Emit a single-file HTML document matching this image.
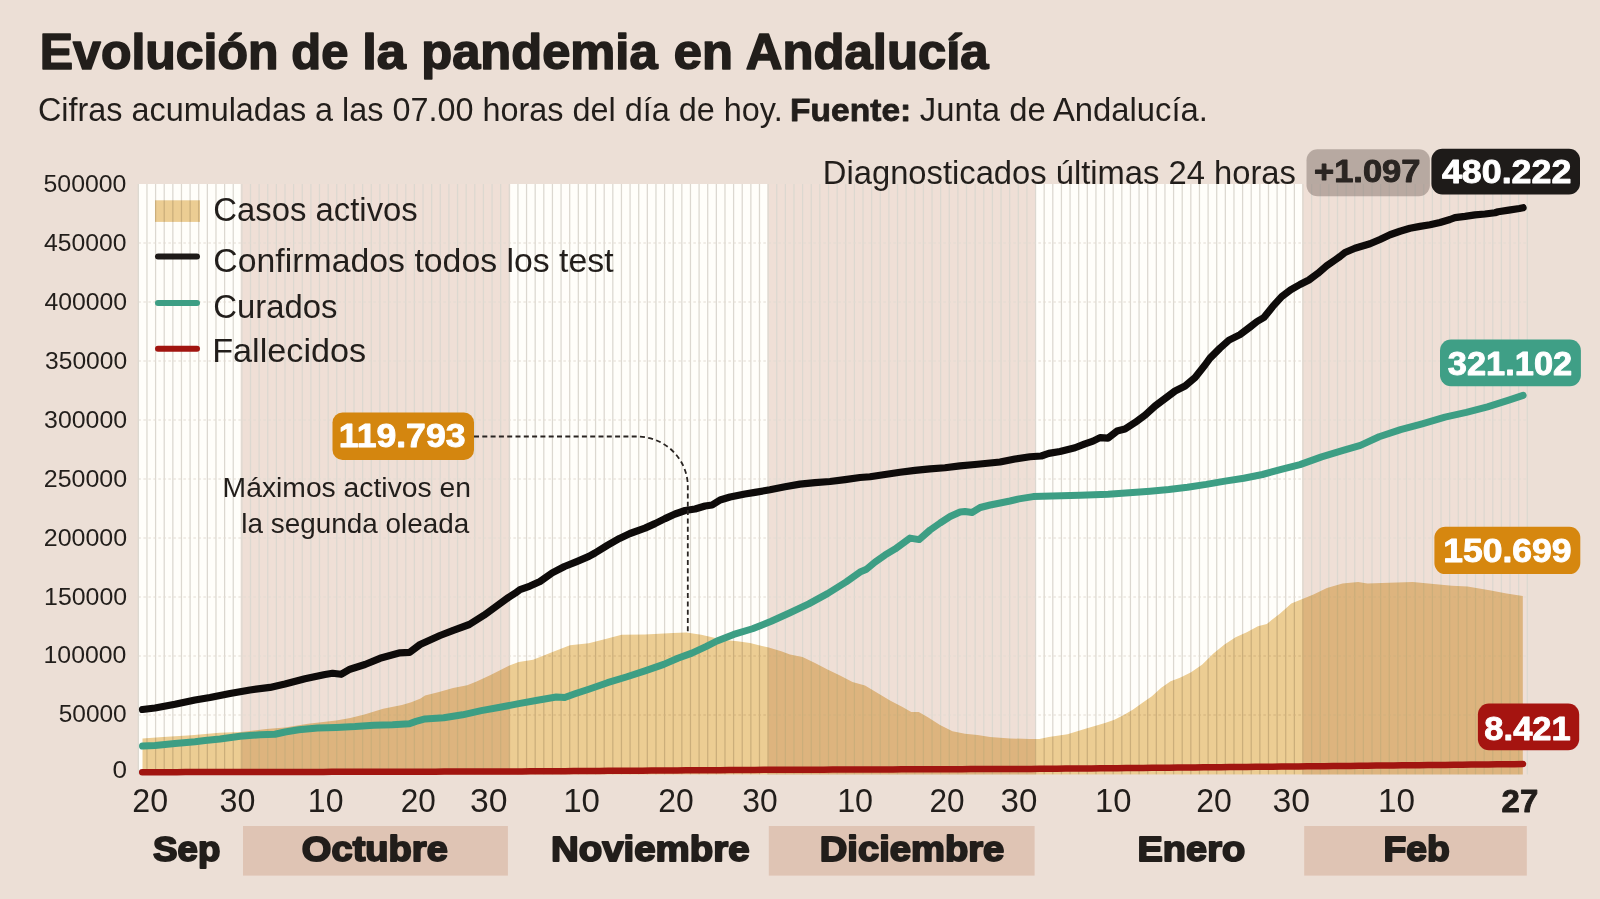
<!DOCTYPE html>
<html><head><meta charset="utf-8"><title>Evolución de la pandemia en Andalucía</title>
<style>html,body{margin:0;padding:0;background:#ecdfd6;width:1600px;height:899px;overflow:hidden}</style>
</head><body>
<svg width="1600" height="899" viewBox="0 0 1600 899" style="display:block">
<rect x="0" y="0" width="1600" height="899" fill="#ecdfd6"/>
<rect x="138.40" y="184.0" width="102.40" height="590.5" fill="#fffefa"/>
<rect x="240.80" y="184.0" width="269.40" height="590.5" fill="#efdfd6"/>
<rect x="510.20" y="184.0" width="257.50" height="590.5" fill="#fffefa"/>
<rect x="767.70" y="184.0" width="268.10" height="590.5" fill="#efdfd6"/>
<rect x="1035.80" y="184.0" width="266.60" height="590.5" fill="#fffefa"/>
<rect x="1302.40" y="184.0" width="225.40" height="590.5" fill="#efdfd6"/>
<path d="M138.34,184.0V774.5M146.97,184.0V774.5M155.59,184.0V774.5M164.22,184.0V774.5M172.85,184.0V774.5M181.47,184.0V774.5M190.10,184.0V774.5M198.73,184.0V774.5M207.35,184.0V774.5M215.98,184.0V774.5M224.61,184.0V774.5M233.24,184.0V774.5M241.86,184.0V774.5M250.49,184.0V774.5M259.12,184.0V774.5M267.74,184.0V774.5M276.37,184.0V774.5M285.00,184.0V774.5M293.62,184.0V774.5M302.25,184.0V774.5M310.88,184.0V774.5M319.51,184.0V774.5M328.13,184.0V774.5M336.76,184.0V774.5M345.39,184.0V774.5M354.01,184.0V774.5M362.64,184.0V774.5M371.27,184.0V774.5M379.89,184.0V774.5M388.52,184.0V774.5M397.15,184.0V774.5M405.78,184.0V774.5M414.40,184.0V774.5M423.03,184.0V774.5M431.66,184.0V774.5M440.28,184.0V774.5M448.91,184.0V774.5M457.54,184.0V774.5M466.17,184.0V774.5M474.79,184.0V774.5M483.42,184.0V774.5M492.05,184.0V774.5M500.67,184.0V774.5M509.30,184.0V774.5M517.93,184.0V774.5M526.55,184.0V774.5M535.18,184.0V774.5M543.81,184.0V774.5M552.44,184.0V774.5M561.06,184.0V774.5M569.69,184.0V774.5M578.32,184.0V774.5M586.94,184.0V774.5M595.57,184.0V774.5M604.20,184.0V774.5M612.82,184.0V774.5M621.45,184.0V774.5M630.08,184.0V774.5M638.71,184.0V774.5M647.33,184.0V774.5M655.96,184.0V774.5M664.59,184.0V774.5M673.21,184.0V774.5M681.84,184.0V774.5M690.47,184.0V774.5M699.09,184.0V774.5M707.72,184.0V774.5M716.35,184.0V774.5M724.98,184.0V774.5M733.60,184.0V774.5M742.23,184.0V774.5M750.86,184.0V774.5M759.48,184.0V774.5M768.11,184.0V774.5M776.74,184.0V774.5M785.36,184.0V774.5M793.99,184.0V774.5M802.62,184.0V774.5M811.25,184.0V774.5M819.87,184.0V774.5M828.50,184.0V774.5M837.13,184.0V774.5M845.75,184.0V774.5M854.38,184.0V774.5M863.01,184.0V774.5M871.63,184.0V774.5M880.26,184.0V774.5M888.89,184.0V774.5M897.52,184.0V774.5M906.14,184.0V774.5M914.77,184.0V774.5M923.40,184.0V774.5M932.02,184.0V774.5M940.65,184.0V774.5M949.28,184.0V774.5M957.90,184.0V774.5M966.53,184.0V774.5M975.16,184.0V774.5M983.79,184.0V774.5M992.41,184.0V774.5M1001.04,184.0V774.5M1009.67,184.0V774.5M1018.29,184.0V774.5M1026.92,184.0V774.5M1035.55,184.0V774.5M1044.17,184.0V774.5M1052.80,184.0V774.5M1061.43,184.0V774.5M1070.06,184.0V774.5M1078.68,184.0V774.5M1087.31,184.0V774.5M1095.94,184.0V774.5M1104.56,184.0V774.5M1113.19,184.0V774.5M1121.82,184.0V774.5M1130.44,184.0V774.5M1139.07,184.0V774.5M1147.70,184.0V774.5M1156.33,184.0V774.5M1164.95,184.0V774.5M1173.58,184.0V774.5M1182.21,184.0V774.5M1190.83,184.0V774.5M1199.46,184.0V774.5M1208.09,184.0V774.5M1216.71,184.0V774.5M1225.34,184.0V774.5M1233.97,184.0V774.5M1242.60,184.0V774.5M1251.22,184.0V774.5M1259.85,184.0V774.5M1268.48,184.0V774.5M1277.10,184.0V774.5M1285.73,184.0V774.5M1294.36,184.0V774.5M1302.98,184.0V774.5M1311.61,184.0V774.5M1320.24,184.0V774.5M1328.87,184.0V774.5M1337.49,184.0V774.5M1346.12,184.0V774.5M1354.75,184.0V774.5M1363.37,184.0V774.5M1372.00,184.0V774.5M1380.63,184.0V774.5M1389.25,184.0V774.5M1397.88,184.0V774.5M1406.51,184.0V774.5M1415.13,184.0V774.5M1423.76,184.0V774.5M1432.39,184.0V774.5M1441.02,184.0V774.5M1449.64,184.0V774.5M1458.27,184.0V774.5M1466.90,184.0V774.5M1475.52,184.0V774.5M1484.15,184.0V774.5M1492.78,184.0V774.5M1501.41,184.0V774.5M1510.03,184.0V774.5M1518.66,184.0V774.5M1527.29,184.0V774.5" stroke="#dcd8d0" stroke-width="1.25" fill="none"/>
<path d="M138.4,715.00H1527.8M138.4,656.00H1527.8M138.4,597.00H1527.8M138.4,538.00H1527.8M138.4,479.00H1527.8M138.4,420.00H1527.8M138.4,361.00H1527.8M138.4,302.00H1527.8M138.4,243.00H1527.8" stroke="#e2dbd2" stroke-width="1" stroke-dasharray="2.5,2.5" fill="none"/>
<polygon points="142.50,774.50 142.50,738.40 163.00,737.00 191.25,735.20 219.40,732.80 241.00,731.90 266.25,729.00 285.00,727.40 308.10,723.75 336.25,720.50 350.30,718.10 364.40,714.40 383.10,708.75 401.90,705.00 411.25,702.20 420.60,698.40 425.00,695.60 439.00,691.90 453.10,688.10 467.20,685.30 476.60,681.60 490.60,675.00 500.00,670.30 509.40,665.60 518.75,661.90 533.10,659.70 551.90,652.20 570.00,645.20 588.75,643.30 607.50,638.60 621.60,634.80 645.00,634.40 673.10,633.00 686.25,632.60 701.25,634.80 715.30,638.10 725.00,640.00 737.50,641.25 750.00,643.10 768.75,647.50 781.25,651.25 790.00,654.40 802.50,656.90 815.00,663.10 827.50,669.40 840.00,675.60 852.50,681.90 865.00,685.60 877.50,693.10 890.00,700.60 902.50,706.90 911.25,711.90 918.75,711.90 927.50,716.90 940.00,725.00 952.50,731.25 965.00,733.75 977.50,735.00 990.00,736.90 1010.00,738.50 1030.00,738.90 1039.40,738.90 1048.75,737.00 1067.50,734.20 1086.25,728.60 1105.00,723.00 1114.40,719.70 1123.75,715.00 1133.10,709.40 1142.50,702.80 1151.90,696.25 1161.25,687.80 1170.60,681.25 1180.00,677.70 1191.10,672.30 1202.30,664.60 1213.40,653.40 1224.50,644.50 1235.60,637.30 1246.80,632.30 1257.90,626.20 1266.80,623.90 1280.10,613.40 1291.30,603.40 1302.40,598.90 1313.50,594.50 1326.90,588.10 1342.50,583.40 1358.10,581.90 1367.50,583.40 1389.40,582.70 1412.80,581.90 1428.40,583.40 1451.90,585.80 1467.50,586.60 1490.90,590.50 1506.60,593.60 1522.80,596.00 1522.80,774.50" fill="#ecce96" style="mix-blend-mode:multiply"/>
<rect x="155" y="200.3" width="45" height="21.6" fill="#ecce96" style="mix-blend-mode:multiply"/>
<polyline points="142.20,772.17 150.83,772.16 159.46,772.15 168.09,772.14 176.72,772.13 185.35,772.12 193.98,772.11 202.61,772.10 211.24,772.09 219.87,772.08 228.50,772.07 237.13,772.06 245.76,772.05 254.39,772.03 263.02,772.01 271.65,772.00 280.28,771.98 288.91,771.96 297.54,771.94 306.17,771.92 314.80,771.90 323.43,771.88 332.06,771.86 340.69,771.84 349.32,771.82 357.95,771.81 366.58,771.79 375.21,771.77 383.84,771.75 392.47,771.73 401.10,771.71 409.73,771.69 418.36,771.67 426.99,771.65 435.62,771.63 444.25,771.62 452.88,771.60 461.51,771.58 470.14,771.56 478.77,771.54 487.40,771.52 496.03,771.50 504.66,771.48 513.29,771.46 521.92,771.41 530.55,771.35 539.18,771.30 547.81,771.24 556.44,771.19 565.07,771.13 573.70,771.08 582.33,771.02 590.96,770.97 599.59,770.91 608.22,770.86 616.85,770.80 625.48,770.75 634.11,770.69 642.74,770.64 651.37,770.58 660.00,770.53 668.63,770.47 677.26,770.42 685.89,770.36 694.52,770.31 703.15,770.25 711.78,770.20 720.41,770.14 729.04,770.09 737.67,770.03 746.30,769.98 754.93,769.92 763.56,769.87 772.19,769.81 780.82,769.78 789.45,769.75 798.08,769.72 806.71,769.69 815.34,769.66 823.97,769.63 832.60,769.60 841.23,769.57 849.86,769.54 858.49,769.51 867.12,769.48 875.75,769.45 884.38,769.42 893.01,769.38 901.64,769.35 910.27,769.32 918.90,769.29 927.53,769.26 936.16,769.23 944.79,769.20 953.42,769.17 962.05,769.14 970.68,769.11 979.31,769.08 987.94,769.05 996.57,769.02 1005.20,768.99 1013.83,768.96 1022.46,768.93 1031.09,768.90 1039.72,768.87 1048.35,768.79 1056.98,768.70 1065.61,768.62 1074.24,768.54 1082.87,768.46 1091.50,768.38 1100.13,768.29 1108.76,768.21 1117.39,768.13 1126.02,768.05 1134.65,767.97 1143.28,767.88 1151.91,767.80 1160.54,767.72 1169.17,767.64 1177.80,767.56 1186.43,767.48 1195.06,767.39 1203.69,767.31 1212.32,767.23 1220.95,767.15 1229.58,767.07 1238.21,766.98 1246.84,766.90 1255.47,766.82 1264.10,766.74 1272.73,766.66 1281.36,766.58 1289.99,766.49 1298.62,766.41 1307.25,766.33 1315.88,766.24 1324.51,766.15 1333.14,766.06 1341.77,765.97 1350.40,765.88 1359.03,765.79 1367.66,765.70 1376.29,765.60 1384.92,765.51 1393.55,765.42 1402.18,765.33 1410.81,765.24 1419.44,765.15 1428.07,765.06 1436.70,764.97 1445.33,764.88 1453.96,764.79 1462.59,764.70 1471.22,764.61 1479.85,764.52 1488.48,764.43 1497.11,764.34 1505.74,764.24 1514.37,764.15 1523.00,764.06" fill="none" stroke="#a11510" stroke-width="6.5" stroke-linecap="round" stroke-linejoin="round"/>
<polyline points="142.50,746.00 155.00,745.50 175.00,743.50 195.00,741.75 205.00,740.50 220.00,739.00 240.00,736.25 260.00,734.75 275.00,734.25 285.00,732.00 298.75,729.80 317.50,728.00 336.25,727.50 355.00,726.60 373.75,725.20 392.50,724.70 409.40,723.75 416.00,721.40 425.00,718.90 443.75,717.70 462.50,714.80 481.25,710.60 500.00,707.30 518.75,703.60 537.50,700.30 556.25,697.00 564.70,697.50 575.00,693.80 588.75,689.20 607.50,682.70 626.25,677.00 645.00,670.90 663.75,664.40 677.80,658.30 691.90,653.10 705.90,646.60 717.00,641.00 733.75,634.40 752.50,628.75 771.25,621.25 790.00,612.80 808.75,603.90 827.50,593.60 846.25,581.90 860.00,572.10 866.00,569.60 875.00,562.10 885.00,555.10 895.00,549.10 910.00,538.10 919.10,539.60 930.10,530.00 940.10,523.00 950.10,516.50 960.10,512.00 965.10,511.50 972.10,512.50 980.20,507.50 990.20,505.00 1000.20,503.00 1010.00,501.00 1019.00,498.90 1033.10,496.60 1051.90,496.10 1080.00,495.20 1108.10,494.20 1136.25,492.30 1150.00,491.20 1168.75,489.50 1187.50,487.20 1206.25,484.40 1225.00,481.10 1243.75,478.30 1262.50,474.50 1281.25,469.40 1300.00,464.60 1321.60,456.90 1343.10,450.40 1360.40,445.40 1379.10,436.80 1400.60,429.60 1422.20,423.80 1445.00,417.20 1466.30,412.40 1487.50,406.90 1508.80,400.20 1523.10,395.40" fill="none" stroke="#3d9e84" stroke-width="7" stroke-linecap="round" stroke-linejoin="round"/>
<polyline points="142.50,709.50 155.00,708.00 175.00,704.30 195.00,700.00 210.00,697.50 230.00,693.50 250.00,690.00 270.00,687.40 285.00,684.00 305.00,678.80 325.00,674.50 332.60,673.30 341.00,674.30 350.00,669.20 365.00,664.50 380.00,658.30 400.00,652.80 409.60,652.30 420.10,644.50 440.00,635.50 453.30,630.30 469.30,624.50 483.90,615.30 496.20,606.40 508.40,597.50 515.00,593.30 520.00,589.60 530.00,586.10 540.00,581.50 552.20,572.90 564.50,566.50 576.70,561.60 588.90,556.40 595.00,553.00 607.30,545.40 619.50,538.40 630.00,533.50 645.00,528.10 655.00,523.60 665.00,518.60 675.10,514.00 685.10,510.50 695.10,509.00 705.10,506.00 712.10,505.00 720.10,500.00 730.10,497.00 745.00,494.00 755.00,492.40 770.00,489.75 785.00,486.75 800.00,484.10 815.00,482.60 830.00,481.50 845.00,479.60 860.00,477.50 870.00,476.75 885.00,474.50 900.00,472.25 915.00,470.40 930.00,468.90 945.00,467.75 960.00,465.90 975.00,464.50 985.00,463.50 1000.00,462.00 1015.00,459.00 1030.00,456.75 1041.25,456.00 1048.75,453.40 1060.00,451.50 1075.00,447.75 1085.00,443.80 1093.00,441.10 1100.00,437.60 1108.00,438.10 1117.00,431.10 1125.00,429.10 1135.00,422.60 1145.10,415.10 1155.10,406.00 1165.10,398.50 1175.10,391.00 1185.10,386.00 1195.10,377.50 1205.00,365.00 1210.00,358.10 1220.00,348.10 1229.00,340.10 1240.00,334.60 1250.10,327.00 1257.10,321.50 1263.90,317.50 1272.80,306.40 1281.70,296.60 1290.60,289.90 1300.00,284.50 1308.90,280.00 1317.80,273.40 1326.70,265.80 1335.60,259.60 1340.00,256.50 1345.00,252.50 1355.00,248.20 1365.00,245.20 1370.00,243.75 1380.00,239.50 1390.00,234.75 1400.00,231.25 1410.00,228.25 1420.00,226.35 1430.00,224.75 1440.00,222.50 1450.00,219.50 1455.00,217.60 1465.00,216.35 1475.00,214.85 1485.00,214.00 1495.00,212.70 1498.10,211.70 1508.80,210.10 1519.40,208.50 1523.10,207.75" fill="none" stroke="#0e0b0a" stroke-width="7.2" stroke-linecap="round" stroke-linejoin="round"/>
<path d="M474,436.5 H636.7 A51,50 0 0 1 687.8,486.5 V632.5" fill="none" stroke="#2a2522" stroke-width="1.8" stroke-dasharray="5,3.3"/>
<path d="M158,256.6 H197" stroke="#1e1a18" stroke-width="6" stroke-linecap="round"/>
<path d="M158,303.1 H197" stroke="#3d9e84" stroke-width="6" stroke-linecap="round"/>
<path d="M158,348.75 H197" stroke="#a11510" stroke-width="6" stroke-linecap="round"/>
<text x="213.36" y="221.25" font-family="Liberation Sans, sans-serif" font-weight="normal" font-size="33.14" textLength="204.41" lengthAdjust="spacingAndGlyphs" fill="#221e1b" >Casos activos</text>
<text x="213.31" y="271.90" font-family="Liberation Sans, sans-serif" font-weight="normal" font-size="33.14" textLength="400.32" lengthAdjust="spacingAndGlyphs" fill="#221e1b" >Confirmados todos los test</text>
<text x="213.36" y="317.50" font-family="Liberation Sans, sans-serif" font-weight="normal" font-size="33.14" textLength="124.07" lengthAdjust="spacingAndGlyphs" fill="#221e1b" >Curados</text>
<text x="212.19" y="361.90" font-family="Liberation Sans, sans-serif" font-weight="normal" font-size="33.14" textLength="154.04" lengthAdjust="spacingAndGlyphs" fill="#221e1b" >Fallecidos</text>
<rect x="332.5" y="412.5" width="141.50" height="47.50" rx="10" ry="10" fill="#d4860f" />
<text x="338.84" y="447.35" font-family="Liberation Sans, sans-serif" font-weight="bold" font-size="33.67" textLength="126.67" lengthAdjust="spacingAndGlyphs" fill="#ffffff" stroke="#ffffff" stroke-width="0.9" stroke-linejoin="round" >119.793</text>
<text x="222.58" y="496.50" font-family="Liberation Sans, sans-serif" font-weight="normal" font-size="27.62" textLength="248.42" lengthAdjust="spacingAndGlyphs" fill="#221e1b" >Máximos activos en</text>
<text x="241.33" y="532.90" font-family="Liberation Sans, sans-serif" font-weight="normal" font-size="27.45" textLength="227.84" lengthAdjust="spacingAndGlyphs" fill="#221e1b" >la segunda oleada</text>
<text x="822.82" y="183.50" font-family="Liberation Sans, sans-serif" font-weight="normal" font-size="33.43" textLength="473.07" lengthAdjust="spacingAndGlyphs" fill="#221e1b" >Diagnosticados últimas 24 horas</text>
<rect x="1306.5" y="149.3" width="123.40" height="46.90" rx="11" ry="11" fill="rgba(120,105,98,0.45)" />
<text x="1314.00" y="182.15" font-family="Liberation Sans, sans-serif" font-weight="bold" font-size="31.38" textLength="106.45" lengthAdjust="spacingAndGlyphs" fill="#2a2522" stroke="#2a2522" stroke-width="0.9" stroke-linejoin="round" >+1.097</text>
<rect x="1431.4" y="148.7" width="148.60" height="45.80" rx="11" ry="11" fill="#1e1b19" />
<text x="1441.91" y="182.55" font-family="Liberation Sans, sans-serif" font-weight="bold" font-size="32.81" textLength="129.43" lengthAdjust="spacingAndGlyphs" fill="#ffffff" stroke="#ffffff" stroke-width="0.9" stroke-linejoin="round" >480.222</text>
<rect x="1440" y="339.6" width="140.90" height="46.65" rx="11" ry="11" fill="#3f9f86" />
<text x="1447.79" y="374.55" font-family="Liberation Sans, sans-serif" font-weight="bold" font-size="32.81" textLength="124.39" lengthAdjust="spacingAndGlyphs" fill="#ffffff" stroke="#ffffff" stroke-width="0.9" stroke-linejoin="round" >321.102</text>
<rect x="1434.4" y="526.8" width="145.90" height="47.30" rx="11" ry="11" fill="#d6870f" />
<text x="1443.25" y="562.35" font-family="Liberation Sans, sans-serif" font-weight="bold" font-size="33.38" textLength="128.32" lengthAdjust="spacingAndGlyphs" fill="#ffffff" stroke="#ffffff" stroke-width="0.9" stroke-linejoin="round" >150.699</text>
<rect x="1477.9" y="703.5" width="101.30" height="46.70" rx="11" ry="11" fill="#a51410" />
<text x="1484.38" y="739.55" font-family="Liberation Sans, sans-serif" font-weight="bold" font-size="32.81" textLength="86.32" lengthAdjust="spacingAndGlyphs" fill="#ffffff" stroke="#ffffff" stroke-width="0.9" stroke-linejoin="round" >8.421</text>
<text x="43.51" y="192.10" font-family="Liberation Sans, sans-serif" font-weight="normal" font-size="23.35" textLength="82.94" lengthAdjust="spacingAndGlyphs" fill="#221e1b" >500000</text>
<text x="43.96" y="251.10" font-family="Liberation Sans, sans-serif" font-weight="normal" font-size="23.35" textLength="82.48" lengthAdjust="spacingAndGlyphs" fill="#221e1b" >450000</text>
<text x="44.45" y="310.10" font-family="Liberation Sans, sans-serif" font-weight="normal" font-size="23.35" textLength="82.69" lengthAdjust="spacingAndGlyphs" fill="#221e1b" >400000</text>
<text x="45.07" y="369.10" font-family="Liberation Sans, sans-serif" font-weight="normal" font-size="23.35" textLength="82.07" lengthAdjust="spacingAndGlyphs" fill="#221e1b" >350000</text>
<text x="44.05" y="428.10" font-family="Liberation Sans, sans-serif" font-weight="normal" font-size="23.35" textLength="83.09" lengthAdjust="spacingAndGlyphs" fill="#221e1b" >300000</text>
<text x="43.75" y="487.10" font-family="Liberation Sans, sans-serif" font-weight="normal" font-size="23.35" textLength="83.40" lengthAdjust="spacingAndGlyphs" fill="#221e1b" >250000</text>
<text x="43.75" y="546.10" font-family="Liberation Sans, sans-serif" font-weight="normal" font-size="23.35" textLength="83.40" lengthAdjust="spacingAndGlyphs" fill="#221e1b" >200000</text>
<text x="44.11" y="605.10" font-family="Liberation Sans, sans-serif" font-weight="normal" font-size="23.35" textLength="83.04" lengthAdjust="spacingAndGlyphs" fill="#221e1b" >150000</text>
<text x="43.51" y="663.10" font-family="Liberation Sans, sans-serif" font-weight="normal" font-size="23.35" textLength="82.93" lengthAdjust="spacingAndGlyphs" fill="#221e1b" >100000</text>
<text x="58.72" y="722.10" font-family="Liberation Sans, sans-serif" font-weight="normal" font-size="23.35" textLength="68.00" lengthAdjust="spacingAndGlyphs" fill="#221e1b" >50000</text>
<text x="112.48" y="777.70" font-family="Liberation Sans, sans-serif" font-weight="normal" font-size="23.35" textLength="14.51" lengthAdjust="spacingAndGlyphs" fill="#221e1b" >0</text>
<text x="132.29" y="812.40" font-family="Liberation Sans, sans-serif" font-weight="normal" font-size="32.38" textLength="35.85" lengthAdjust="spacingAndGlyphs" fill="#221e1b" >20</text>
<text x="219.57" y="812.40" font-family="Liberation Sans, sans-serif" font-weight="normal" font-size="32.38" textLength="35.86" lengthAdjust="spacingAndGlyphs" fill="#221e1b" >30</text>
<text x="307.86" y="812.40" font-family="Liberation Sans, sans-serif" font-weight="normal" font-size="32.38" textLength="35.67" lengthAdjust="spacingAndGlyphs" fill="#221e1b" >10</text>
<text x="400.82" y="812.40" font-family="Liberation Sans, sans-serif" font-weight="normal" font-size="32.38" textLength="35.09" lengthAdjust="spacingAndGlyphs" fill="#221e1b" >20</text>
<text x="469.92" y="812.40" font-family="Liberation Sans, sans-serif" font-weight="normal" font-size="32.38" textLength="37.58" lengthAdjust="spacingAndGlyphs" fill="#221e1b" >30</text>
<text x="563.24" y="812.40" font-family="Liberation Sans, sans-serif" font-weight="normal" font-size="32.38" textLength="36.78" lengthAdjust="spacingAndGlyphs" fill="#221e1b" >10</text>
<text x="658.20" y="812.40" font-family="Liberation Sans, sans-serif" font-weight="normal" font-size="32.38" textLength="35.52" lengthAdjust="spacingAndGlyphs" fill="#221e1b" >20</text>
<text x="742.29" y="812.40" font-family="Liberation Sans, sans-serif" font-weight="normal" font-size="32.38" textLength="35.43" lengthAdjust="spacingAndGlyphs" fill="#221e1b" >30</text>
<text x="837.14" y="812.40" font-family="Liberation Sans, sans-serif" font-weight="normal" font-size="32.38" textLength="36.00" lengthAdjust="spacingAndGlyphs" fill="#221e1b" >10</text>
<text x="929.52" y="812.40" font-family="Liberation Sans, sans-serif" font-weight="normal" font-size="32.38" textLength="35.09" lengthAdjust="spacingAndGlyphs" fill="#221e1b" >20</text>
<text x="1000.64" y="812.40" font-family="Liberation Sans, sans-serif" font-weight="normal" font-size="32.38" textLength="36.83" lengthAdjust="spacingAndGlyphs" fill="#221e1b" >30</text>
<text x="1095.00" y="812.40" font-family="Liberation Sans, sans-serif" font-weight="normal" font-size="32.38" textLength="36.56" lengthAdjust="spacingAndGlyphs" fill="#221e1b" >10</text>
<text x="1196.20" y="812.40" font-family="Liberation Sans, sans-serif" font-weight="normal" font-size="32.38" textLength="35.63" lengthAdjust="spacingAndGlyphs" fill="#221e1b" >20</text>
<text x="1272.46" y="812.40" font-family="Liberation Sans, sans-serif" font-weight="normal" font-size="32.38" textLength="37.63" lengthAdjust="spacingAndGlyphs" fill="#221e1b" >30</text>
<text x="1378.06" y="812.40" font-family="Liberation Sans, sans-serif" font-weight="normal" font-size="32.38" textLength="37.11" lengthAdjust="spacingAndGlyphs" fill="#221e1b" >10</text>
<text x="1501.63" y="812.15" font-family="Liberation Sans, sans-serif" font-weight="bold" font-size="31.52" textLength="36.65" lengthAdjust="spacingAndGlyphs" fill="#221e1b" stroke="#221e1b" stroke-width="0.9" stroke-linejoin="round" >27</text>
<rect x="243" y="826" width="264.90" height="49.6" fill="#dfc4b4"/>
<rect x="768.8" y="826" width="265.80" height="49.6" fill="#dfc4b4"/>
<rect x="1304.2" y="826" width="222.60" height="49.6" fill="#dfc4b4"/>
<text x="153.12" y="861.25" font-family="Liberation Sans, sans-serif" font-weight="bold" font-size="35.90" textLength="67.33" lengthAdjust="spacingAndGlyphs" fill="#221e1b" stroke="#221e1b" stroke-width="1.9" stroke-linejoin="round" >Sep</text>
<text x="301.89" y="861.25" font-family="Liberation Sans, sans-serif" font-weight="bold" font-size="35.90" textLength="145.96" lengthAdjust="spacingAndGlyphs" fill="#221e1b" stroke="#221e1b" stroke-width="1.9" stroke-linejoin="round" >Octubre</text>
<text x="550.91" y="861.25" font-family="Liberation Sans, sans-serif" font-weight="bold" font-size="35.90" textLength="198.66" lengthAdjust="spacingAndGlyphs" fill="#221e1b" stroke="#221e1b" stroke-width="1.9" stroke-linejoin="round" >Noviembre</text>
<text x="819.73" y="861.25" font-family="Liberation Sans, sans-serif" font-weight="bold" font-size="35.90" textLength="184.64" lengthAdjust="spacingAndGlyphs" fill="#221e1b" stroke="#221e1b" stroke-width="1.9" stroke-linejoin="round" >Diciembre</text>
<text x="1137.54" y="861.25" font-family="Liberation Sans, sans-serif" font-weight="bold" font-size="35.90" textLength="107.69" lengthAdjust="spacingAndGlyphs" fill="#221e1b" stroke="#221e1b" stroke-width="1.9" stroke-linejoin="round" >Enero</text>
<text x="1383.48" y="861.25" font-family="Liberation Sans, sans-serif" font-weight="bold" font-size="35.90" textLength="66.50" lengthAdjust="spacingAndGlyphs" fill="#221e1b" stroke="#221e1b" stroke-width="1.9" stroke-linejoin="round" >Feb</text>
<text x="39.80" y="69.10" font-family="Liberation Sans, sans-serif" font-weight="bold" font-size="49.71" textLength="238.71" lengthAdjust="spacingAndGlyphs" fill="#221e1b" stroke="#221e1b" stroke-width="1.6" stroke-linejoin="round" >Evolución</text>
<text x="291.30" y="69.10" font-family="Liberation Sans, sans-serif" font-weight="bold" font-size="49.71" textLength="57.07" lengthAdjust="spacingAndGlyphs" fill="#221e1b" stroke="#221e1b" stroke-width="1.6" stroke-linejoin="round" >de</text>
<text x="362.20" y="69.10" font-family="Liberation Sans, sans-serif" font-weight="bold" font-size="49.71" textLength="43.54" lengthAdjust="spacingAndGlyphs" fill="#221e1b" stroke="#221e1b" stroke-width="1.6" stroke-linejoin="round" >la</text>
<text x="421.26" y="69.10" font-family="Liberation Sans, sans-serif" font-weight="bold" font-size="49.71" textLength="236.34" lengthAdjust="spacingAndGlyphs" fill="#221e1b" stroke="#221e1b" stroke-width="1.6" stroke-linejoin="round" >pandemia</text>
<text x="673.82" y="69.10" font-family="Liberation Sans, sans-serif" font-weight="bold" font-size="49.71" textLength="59.12" lengthAdjust="spacingAndGlyphs" fill="#221e1b" stroke="#221e1b" stroke-width="1.6" stroke-linejoin="round" >en</text>
<text x="745.83" y="69.10" font-family="Liberation Sans, sans-serif" font-weight="bold" font-size="49.71" textLength="242.70" lengthAdjust="spacingAndGlyphs" fill="#221e1b" stroke="#221e1b" stroke-width="1.6" stroke-linejoin="round" >Andalucía</text>
<text x="37.88" y="121.30" font-family="Liberation Sans, sans-serif" font-weight="normal" font-size="33.14" textLength="744.77" lengthAdjust="spacingAndGlyphs" fill="#221e1b" >Cifras acumuladas a las 07.00 horas del día de hoy.</text>
<text x="790.08" y="120.90" font-family="Liberation Sans, sans-serif" font-weight="bold" font-size="31.98" textLength="121.23" lengthAdjust="spacingAndGlyphs" fill="#221e1b" stroke="#221e1b" stroke-width="0.8" stroke-linejoin="round" >Fuente:</text>
<text x="919.81" y="121.30" font-family="Liberation Sans, sans-serif" font-weight="normal" font-size="33.14" textLength="288.17" lengthAdjust="spacingAndGlyphs" fill="#221e1b" >Junta de Andalucía.</text>
</svg>
</body></html>
